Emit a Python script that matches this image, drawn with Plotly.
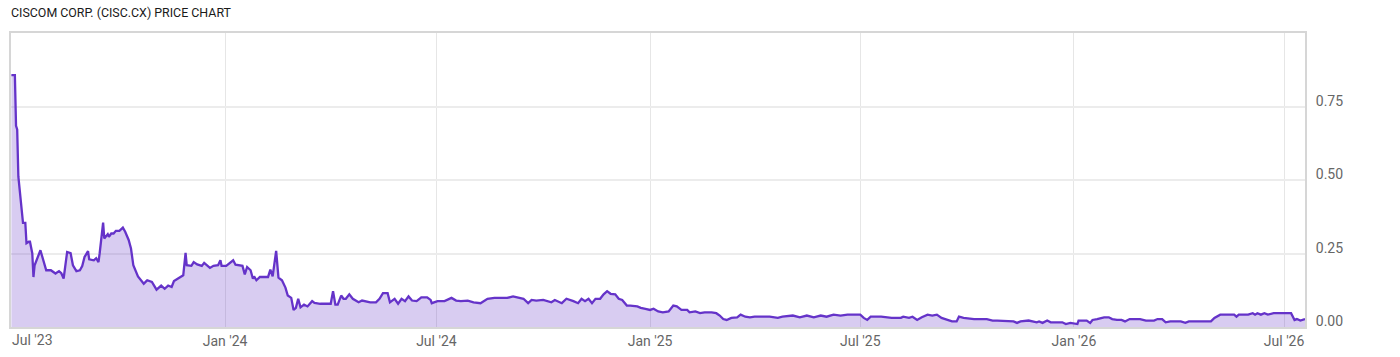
import plotly.graph_objects as go

# ---- data ----
dates = [
    "2023-07-01", "2023-07-04", "2023-07-05", "2023-07-06", "2023-07-07", "2023-07-09",
    "2023-07-11", "2023-07-13", "2023-07-14", "2023-07-16", "2023-07-17", "2023-07-19",
    "2023-07-20", "2023-07-21", "2023-07-26", "2023-07-31", "2023-08-04", "2023-08-08",
    "2023-08-11", "2023-08-13", "2023-08-15", "2023-08-18", "2023-08-21", "2023-08-23",
    "2023-08-26", "2023-08-29", "2023-08-31", "2023-09-02", "2023-09-05", "2023-09-06",
    "2023-09-10", "2023-09-12", "2023-09-14", "2023-09-15", "2023-09-18", "2023-09-19",
    "2023-09-22", "2023-09-23", "2023-09-25", "2023-09-27", "2023-09-29", "2023-10-02",
    "2023-10-05", "2023-10-07", "2023-10-10", "2023-10-12", "2023-10-14", "2023-10-18",
    "2023-10-23", "2023-10-25", "2023-10-26", "2023-10-30", "2023-11-03", "2023-11-07",
    "2023-11-10", "2023-11-13", "2023-11-16", "2023-11-18", "2023-11-21", "2023-11-24",
    "2023-11-26", "2023-11-28", "2023-11-29", "2023-12-03", "2023-12-05", "2023-12-08",
    "2023-12-12", "2023-12-14", "2023-12-19", "2023-12-22", "2023-12-26", "2023-12-28",
    "2023-12-29", "2024-01-02", "2024-01-06", "2024-01-08", "2024-01-10", "2024-01-14",
    "2024-01-16", "2024-01-18", "2024-01-20", "2024-01-23", "2024-01-25", "2024-01-26",
    "2024-01-28", "2024-01-31", "2024-02-07", "2024-02-09", "2024-02-11", "2024-02-14",
    "2024-02-16", "2024-02-19", "2024-02-22", "2024-02-24", "2024-02-27", "2024-02-29",
    "2024-03-02", "2024-03-04", "2024-03-06", "2024-03-09", "2024-03-12", "2024-03-16",
    "2024-03-18", "2024-03-23", "2024-04-01", "2024-04-03", "2024-04-05", "2024-04-07",
    "2024-04-10", "2024-04-12", "2024-04-14", "2024-04-17", "2024-04-20", "2024-04-25",
    "2024-04-28", "2024-05-05", "2024-05-10", "2024-05-13", "2024-05-16", "2024-05-20",
    "2024-05-22", "2024-05-26", "2024-05-29", "2024-06-01", "2024-06-04", "2024-06-07",
    "2024-06-10", "2024-06-14", "2024-06-18", "2024-06-23", "2024-06-26", "2024-06-27",
    "2024-07-02", "2024-07-08", "2024-07-14", "2024-07-18", "2024-07-22", "2024-07-28",
    "2024-08-02", "2024-08-08", "2024-08-14", "2024-08-20", "2024-08-31", "2024-09-05",
    "2024-09-09", "2024-09-14", "2024-09-18", "2024-09-21", "2024-09-25", "2024-10-01",
    "2024-10-08", "2024-10-11", "2024-10-17", "2024-10-21", "2024-10-27", "2024-10-31",
    "2024-11-03", "2024-11-06", "2024-11-09", "2024-11-12", "2024-11-15", "2024-11-19",
    "2024-11-22", "2024-11-25", "2024-11-28", "2024-12-02", "2024-12-05", "2024-12-08",
    "2024-12-12", "2024-12-15", "2024-12-21", "2024-12-24", "2024-12-28", "2025-01-01",
    "2025-01-04", "2025-01-08", "2025-01-12", "2025-01-17", "2025-01-21", "2025-01-24",
    "2025-01-28", "2025-02-02", "2025-02-04", "2025-02-09", "2025-02-13", "2025-02-17",
    "2025-02-23", "2025-02-27", "2025-03-02", "2025-03-05", "2025-03-08", "2025-03-12",
    "2025-03-17", "2025-03-20", "2025-03-24", "2025-03-28", "2025-04-01", "2025-04-08",
    "2025-04-14", "2025-04-21", "2025-04-25", "2025-05-04", "2025-05-10", "2025-05-16",
    "2025-05-22", "2025-05-28", "2025-06-02", "2025-06-08", "2025-06-14", "2025-06-20",
    "2025-07-01", "2025-07-04", "2025-07-07", "2025-07-10", "2025-07-19", "2025-07-28",
    "2025-08-05", "2025-08-07", "2025-08-12", "2025-08-15", "2025-08-19", "2025-08-23",
    "2025-08-28", "2025-09-01", "2025-09-05", "2025-09-09", "2025-09-14", "2025-09-18",
    "2025-09-22", "2025-09-24", "2025-09-28", "2025-10-07", "2025-10-18", "2025-10-23",
    "2025-10-27", "2025-11-10", "2025-11-13", "2025-11-16", "2025-11-23", "2025-11-30",
    "2025-12-02", "2025-12-05", "2025-12-09", "2025-12-12", "2025-12-22", "2025-12-25",
    "2025-12-29", "2026-01-02", "2026-01-04", "2026-01-05", "2026-01-12", "2026-01-15",
    "2026-01-17", "2026-01-21", "2026-01-27", "2026-01-31", "2026-02-03", "2026-02-07",
    "2026-02-11", "2026-02-14", "2026-02-18", "2026-02-27", "2026-03-04", "2026-03-11",
    "2026-03-14", "2026-03-18", "2026-03-21", "2026-03-25", "2026-04-03", "2026-04-07",
    "2026-04-10", "2026-04-29", "2026-05-02", "2026-05-07", "2026-05-19", "2026-05-21",
    "2026-05-23", "2026-05-31", "2026-06-04", "2026-06-06", "2026-06-08", "2026-06-11",
    "2026-06-14", "2026-06-17", "2026-06-22", "2026-07-07", "2026-07-08", "2026-07-10",
    "2026-07-12", "2026-07-15", "2026-07-19",
]

prices = [
    0.857, 0.857, 0.684, 0.672, 0.512, 0.422,
    0.354, 0.354, 0.285, 0.290, 0.290, 0.250,
    0.170, 0.210, 0.261, 0.193, 0.193, 0.182,
    0.190, 0.183, 0.165, 0.255, 0.251, 0.210,
    0.190, 0.193, 0.207, 0.238, 0.258, 0.230,
    0.227, 0.234, 0.221, 0.250, 0.355, 0.301,
    0.316, 0.307, 0.318, 0.318, 0.327, 0.327,
    0.338, 0.324, 0.296, 0.267, 0.210, 0.172,
    0.147, 0.155, 0.159, 0.153, 0.127, 0.141,
    0.130, 0.141, 0.136, 0.156, 0.164, 0.172,
    0.176, 0.252, 0.210, 0.208, 0.221, 0.213,
    0.208, 0.218, 0.201, 0.208, 0.210, 0.227,
    0.208, 0.208, 0.221, 0.227, 0.212, 0.210,
    0.208, 0.179, 0.204, 0.193, 0.164, 0.172,
    0.159, 0.170, 0.170, 0.195, 0.172, 0.259,
    0.168, 0.159, 0.134, 0.107, 0.099, 0.058,
    0.065, 0.096, 0.067, 0.076, 0.070, 0.088,
    0.082, 0.079, 0.079, 0.122, 0.076, 0.076,
    0.107, 0.096, 0.096, 0.111, 0.096, 0.084,
    0.090, 0.084, 0.084, 0.096, 0.115, 0.115,
    0.084, 0.096, 0.079, 0.096, 0.088, 0.104,
    0.090, 0.088, 0.101, 0.101, 0.092, 0.081,
    0.088, 0.088, 0.099, 0.090, 0.088, 0.090,
    0.084, 0.081, 0.096, 0.099, 0.099, 0.104,
    0.101, 0.096, 0.081, 0.092, 0.090, 0.092,
    0.084, 0.092, 0.081, 0.096, 0.088, 0.081,
    0.096, 0.088, 0.096, 0.081, 0.096, 0.096,
    0.111, 0.122, 0.113, 0.111, 0.096, 0.092,
    0.073, 0.073, 0.070, 0.065, 0.062, 0.058,
    0.062, 0.053, 0.050, 0.053, 0.073, 0.070,
    0.058, 0.058, 0.050, 0.053, 0.047, 0.050,
    0.050, 0.047, 0.039, 0.027, 0.024, 0.031,
    0.033, 0.042, 0.035, 0.033, 0.035, 0.035,
    0.035, 0.031, 0.035, 0.039, 0.033, 0.039,
    0.033, 0.039, 0.035, 0.042, 0.039, 0.042,
    0.042, 0.031, 0.024, 0.035, 0.035, 0.031,
    0.031, 0.035, 0.031, 0.035, 0.024, 0.033,
    0.042, 0.039, 0.042, 0.031, 0.024, 0.019,
    0.019, 0.035, 0.031, 0.027, 0.027, 0.022,
    0.022, 0.019, 0.014, 0.019, 0.022, 0.016,
    0.019, 0.014, 0.022, 0.016, 0.016, 0.010,
    0.014, 0.010, 0.010, 0.022, 0.022, 0.014,
    0.024, 0.027, 0.033, 0.033, 0.027, 0.024,
    0.024, 0.019, 0.027, 0.027, 0.022, 0.022,
    0.027, 0.027, 0.016, 0.019, 0.019, 0.014,
    0.019, 0.019, 0.031, 0.042, 0.042, 0.035,
    0.042, 0.042, 0.047, 0.042, 0.047, 0.042,
    0.047, 0.042, 0.047, 0.047, 0.039, 0.024,
    0.027, 0.022, 0.027,
]

tick_dates = ["2023-07-01", "2024-01-01", "2024-07-01", "2025-01-01",
              "2025-07-01", "2026-01-01", "2026-07-01"]
tick_labels = ["Jul '23", "Jan '24", "Jul '24", "Jan '25", "Jul '25", "Jan '26", "Jul '26"]

y_ticks = [0.0, 0.25, 0.5, 0.75]
y_labels = ["0.00", "0.25", "0.50", "0.75"]

title_text = "CISCOM CORP. (CISC.CX) PRICE CHART"

LINE = "#6533c9"
FILL = "rgba(104, 58, 200, 0.26)"
GRID = "#e6e6e6"
BORDER = "#d6d6d6"
TICK = "#666666"

fig = go.Figure()
fig.add_trace(go.Scatter(
    x=dates, y=prices, mode="lines",
    line=dict(color=LINE, width=2.3),
    fill="tozeroy", fillcolor=FILL,
    hoverinfo="x+y", showlegend=False,
))

fig.update_layout(
    width=1400, height=357,
    margin=dict(l=11, r=95, t=33, b=30, autoexpand=False),
    paper_bgcolor="white", plot_bgcolor="white",
    font=dict(family="Roboto, sans-serif", color=TICK, size=14),
    title=dict(text=title_text, x=11 / 1400, xref="container", xanchor="left",
               y=1, yref="container", yanchor="top", pad=dict(t=8, l=0),
               font=dict(family="Roboto, sans-serif", size=12.4, color="#1a1a1a")),
)

# the first tick sits on the left edge: its label is drawn left-aligned there,
# the remaining labels are centred on their ticks by the axis itself
fig.update_xaxes(
    type="date",
    range=["2023-06-30 16:00", dates[-1]],
    tickvals=tick_dates, ticktext=[""] + tick_labels[1:],
    automargin=False,
    showgrid=True, gridcolor=GRID, gridwidth=1,
    showline=True, linecolor=BORDER, linewidth=2, mirror=True,
    ticks="", tickfont=dict(size=14, color=TICK),
    zeroline=False,
)
fig.add_annotation(
    x=tick_dates[0], xref="x", y=0, yref="paper",
    text=tick_labels[0], showarrow=False,
    xanchor="left", yanchor="top", yshift=-3, xshift=-1,
    font=dict(family="Roboto, sans-serif", size=14, color=TICK),
)
fig.update_yaxes(
    side="right",
    range=[0, 1.0],
    tickvals=y_ticks, ticktext=y_labels,
    ticklabelposition="outside top",
    ticklabelshift=4,
    automargin=False,
    showgrid=True, gridcolor="#ececec", gridwidth=2,
    showline=True, linecolor=BORDER, linewidth=2, mirror=True,
    ticks="", tickfont=dict(size=14, color=TICK),
    ticklabelstandoff=6,
    zeroline=False,
)

fig.write_html("out.html")
